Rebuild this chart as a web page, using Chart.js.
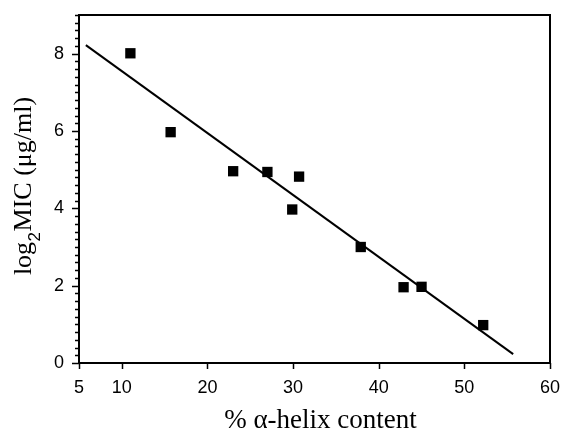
<!DOCTYPE html>
<html>
<head>
<meta charset="utf-8">
<script src="https://cdn.jsdelivr.net/npm/chart.js@4"></script>
<style>
html,body{margin:0;padding:0;background:#fff;}
#wrap{width:565px;height:431px;position:relative;}
</style>
</head>
<body>
<div id="wrap"><canvas id="c" width="565" height="431"></canvas></div>
<script>
// Data
const helixContent = [11.0, 15.7, 23.0, 27.0, 30.7, 29.9, 37.9, 42.9, 45.0, 52.2];
const log2MIC      = [8.01, 5.97, 4.96, 4.94, 4.82, 3.97, 3.00, 1.96, 1.97, 0.98];
const fitX = [5.8, 55.7];
const fitY = [8.22, 0.23];
const xTickValues = [5, 10, 20, 30, 40, 50, 60];
const yTickValues = [0, 2, 4, 6, 8];
const xTitle = "% α-helix content";
const yTitleParts = ["log", "2", "MIC (μg/ml)"];

const points = helixContent.map((x, i) => ({x: x, y: log2MIC[i]}));
const fitLine = fitX.map((x, i) => ({x: x, y: fitY[i]}));

const frameAndTicks = {
  id: 'frameAndTicks',
  afterDraw(chart) {
    const ctx = chart.ctx;
    const a = chart.chartArea;
    const xs = chart.scales.x, ys = chart.scales.y;
    ctx.save();
    ctx.strokeStyle = '#000';
    ctx.lineWidth = 2;
    ctx.strokeRect(a.left, a.top, a.right - a.left, a.bottom - a.top);
    // y ticks: minor every 0.2, major every 2
    ctx.lineWidth = 1.5;
    ctx.beginPath();
    for (let k = 0; k <= 45; k++) {
      const v = k * 0.2;
      const py = Math.round(ys.getPixelForValue(v)) + 0.5;
      const major = (k % 10 === 0);
      const len = major ? 7 : 4;
      ctx.moveTo(a.left, py);
      ctx.lineTo(a.left - len, py);
    }
    ctx.stroke();
    // x ticks
    ctx.beginPath();
    xTickValues.forEach(v => {
      const px = Math.round(xs.getPixelForValue(v)) + 0.5;
      ctx.moveTo(px, a.bottom);
      ctx.lineTo(px, a.bottom + 6);
    });
    ctx.stroke();
    // titles
    ctx.fillStyle = '#000';
    ctx.font = '27px "Liberation Serif"';
    ctx.textAlign = 'center';
    ctx.textBaseline = 'alphabetic';
    ctx.fillText(xTitle, (a.left + a.right) / 2 + 6, 428);
    // y title, rotated
    const f1 = '26px "Liberation Serif"', f2 = '17px "Liberation Sans"';
    ctx.font = f1;
    const w1 = ctx.measureText(yTitleParts[0]).width;
    const w3 = ctx.measureText(yTitleParts[2]).width;
    ctx.font = f2;
    const w2 = ctx.measureText(yTitleParts[1]).width;
    const total = w1 + w2 + w3 + 1;
    const cy = (a.top + a.bottom) / 2 - 3;
    ctx.translate(31, cy + total / 2);
    ctx.rotate(-Math.PI / 2);
    ctx.textAlign = 'left';
    ctx.font = f1;
    ctx.fillText(yTitleParts[0], 0, 0);
    ctx.font = f2;
    ctx.fillText(yTitleParts[1], w1 + 0.5, 9);
    ctx.font = f1;
    ctx.fillText(yTitleParts[2], w1 + w2 + 1, 0);
    ctx.restore();
  }
};

new Chart(document.getElementById('c'), {
  type: 'scatter',
  data: {
    datasets: [
      {
        label: 'data',
        data: points,
        pointStyle: 'rect',
        pointRadius: 7.3,
        pointHoverRadius: 7.3,
        backgroundColor: '#000',
        borderColor: '#000',
        borderWidth: 0
      },
      {
        label: 'fit',
        data: fitLine,
        showLine: true,
        pointRadius: 0,
        borderColor: '#000',
        borderWidth: 2,
        fill: false
      }
    ]
  },
  options: {
    responsive: false,
    animation: false,
    devicePixelRatio: 1,
    layout: { padding: { top: 15, right: 15, left: 0, bottom: 0 } },
    plugins: { legend: { display: false }, tooltip: { enabled: false } },
    scales: {
      x: {
        type: 'linear',
        min: 5, max: 60,
        afterBuildTicks: (s) => { s.ticks = xTickValues.map(v => ({value: v})); },
        afterFit: (s) => { s.height = 68; s.paddingLeft = 0; s.paddingRight = 0; },
        grid: { display: false, drawTicks: false },
        border: { display: false },
        ticks: {
          color: '#000',
          font: { family: '"Liberation Sans"', size: 18 },
          padding: 14,
          maxRotation: 0,
          autoSkip: false
        }
      },
      y: {
        type: 'linear',
        min: 0, max: 9,
        afterBuildTicks: (s) => { s.ticks = yTickValues.map(v => ({value: v})); },
        afterFit: (s) => { s.width = 79; s.paddingTop = 0; s.paddingBottom = 0; },
        grid: { display: false, drawTicks: false },
        border: { display: false },
        ticks: {
          color: '#000',
          font: { family: '"Liberation Sans"', size: 18 },
          padding: 15,
          autoSkip: false
        }
      }
    }
  },
  plugins: [frameAndTicks]
});
</script>
</body>
</html>
